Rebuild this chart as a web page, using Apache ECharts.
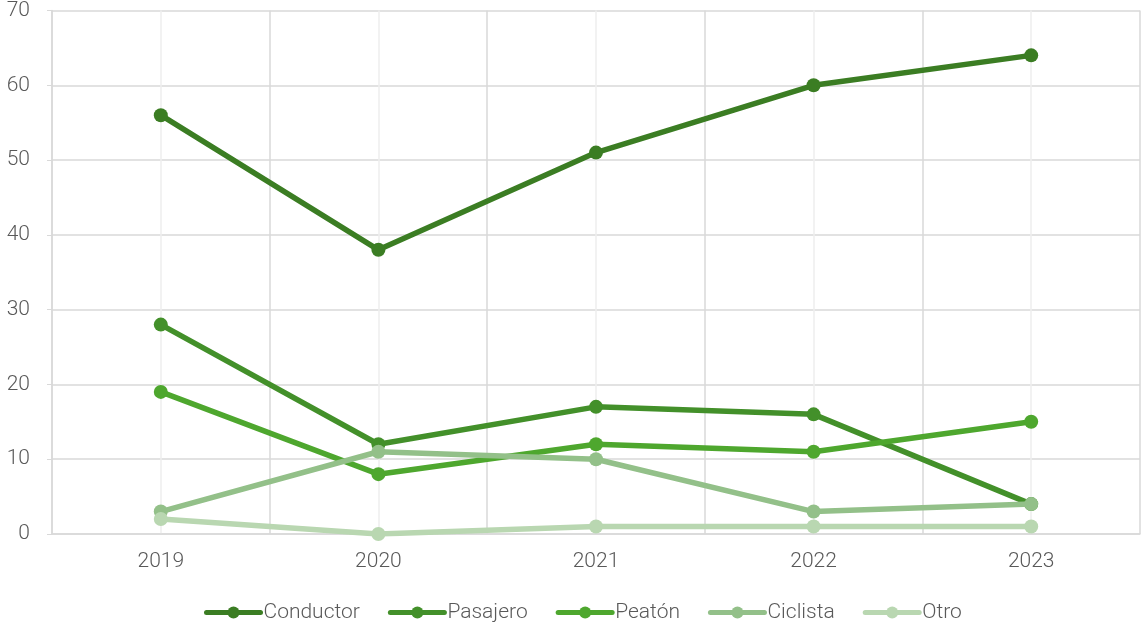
<!DOCTYPE html>
<html><head><meta charset="utf-8">
<script src="https://cdn.jsdelivr.net/npm/echarts@6/dist/echarts.min.js"></script>
<style>html,body{margin:0;padding:0;background:#fff}#c{width:1143px;height:634px}</style>
</head><body><div id="c"></div>
<script>
const years = ['2019','2020','2021','2022','2023'];
const conductor = [56, 38, 51, 60, 64];
const pasajero = [28, 12, 17, 16, 4];
const peaton = [19, 8, 12, 11, 15];
const ciclista = [3, 11, 10, 3, 4];
const otro = [2, 0, 1, 1, 1];
const names = ['Conductor','Pasajero','Peatón','Ciclista','Otro'];
const colors = ['#3b7d23','#43902a','#4ea72e','#93c089','#b9d7b1'];
const values = [conductor, pasajero, peaton, ciclista, otro];
const font = 'Roboto';
const chart = echarts.init(document.getElementById('c'));
const series = values.map((v,i)=>({
  name: names[i], type:'line', data:v, symbol:'circle', symbolSize:14,
  xAxisIndex:0,
  lineStyle:{width:5.5,color:colors[i]}, itemStyle:{color:colors[i]},
  emphasis:{disabled:true}, z:2+i
}));
chart.setOption({
  animation:false,
  textStyle:{fontFamily:font},
  grid:{left:52, right:3, top:10, bottom:100, containLabel:false},
  xAxis:[{type:'category', data:years, boundaryGap:true,
    axisLine:{lineStyle:{color:'#d9d9d9', width:1.5}},
    axisTick:{show:false},
    axisLabel:{color:'#595959', fontSize:21, fontFamily:font, fontWeight:300, margin:17},
    splitLine:{show:false}},
   {type:'value', min:0, max:10, interval:1, position:'bottom',
    axisLine:{show:false}, axisTick:{show:false}, axisLabel:{show:false},
    splitLine:{show:true, lineStyle:{color:['#d9d9d9','#eeeeee'], width:1.5}}}],
  yAxis:{type:'value', min:0, max:70, interval:10,
    axisLine:{show:true, lineStyle:{color:'#d9d9d9', width:1.5}},
    axisLabel:{color:'#595959', fontSize:21, fontFamily:font, fontWeight:300, margin:22},
    splitLine:{lineStyle:{color:'#d9d9d9', width:1.5}}},
  legend:{data:names, bottom:6, left:199, itemWidth:54, itemHeight:15, itemGap:28,
    lineStyle:{width:5, cap:'round'},
    textStyle:{color:'#595959', fontSize:21, fontFamily:font, fontWeight:300, padding:[0,0,0,-2]}},
  series: series
});
</script></body></html>
